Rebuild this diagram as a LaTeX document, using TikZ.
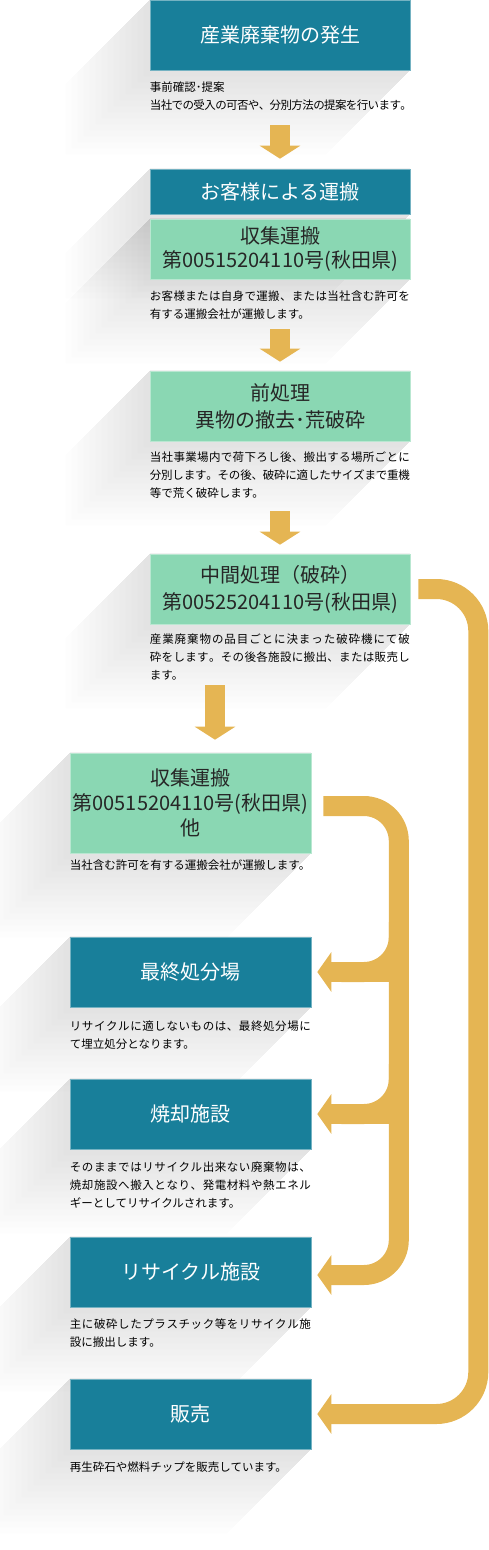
\documentclass[tikz,border=0pt]{standalone}
\usepackage{fontspec}
\newfontfamily\jp{Noto Sans CJK JP}
\usetikzlibrary{calc,arrows.meta,backgrounds}

\definecolor{boxteal}{HTML}{187F9A}
\definecolor{boxgreen}{HTML}{8AD7B3}
\definecolor{flowgold}{HTML}{E5B553}

% justified line: spread the characters of #2 over the width #1
\newcommand\jline[2]{\hbox to #1{\jfirst#2\relax}}
\def\jfirst#1{#1\jrest}
\def\jrest#1{\ifx#1\relax\else\hskip 0pt plus 1fil minus 1fil\relax#1\expandafter\jrest\fi}

\tikzset{
  tealbox/.style={fill=boxteal, draw=boxteal!60!white, line width=0.6pt, text=white,
    minimum width=260pt, minimum height=70pt, inner sep=0pt, align=center,
    font=\jp\fontsize{20}{26}\selectfont},
  greenbox/.style={tealbox, fill=boxgreen, draw=boxgreen!60!white, text=black!85},
  desc/.style={anchor=north west, inner sep=0pt, align=left, text=black,
    font=\jp\fontsize{11.5}{18}\selectfont},
  band/.style={draw=flowgold, line width=20pt},
  sidetip/.style={-{Triangle[length=14pt,width=39pt]}},
  downarr/.style={band, -{Triangle[length=13pt,width=40pt]}},
}

\begin{document}
\begin{tikzpicture}[x=1pt,y=-1pt]
  \useasboundingbox (0,0) rectangle (489,1550);

  % upper column
  \node[tealbox] (gen) at (280,35) {産業廃棄物の発生};
  \node[tealbox, minimum height=45pt] (cust) at (280,191.5) {お客様による運搬};
  \node[greenbox, minimum height=60pt, font=\jp\fontsize{20}{24}\selectfont] (trans1) at (280,249) {収集運搬\\第00515204110号(秋田県)};
  \node[greenbox, font=\jp\fontsize{20}{27}\selectfont] (pre) at (280,406) {前処理\\異物の撤去･荒破砕};
  \node[greenbox, font=\jp\fontsize{20}{27}\selectfont] (mid) at (280,589) {中間処理（破砕）\\第00525204110号(秋田県)};

  % lower column
  \node[greenbox, minimum width=241pt, minimum height=100pt, font=\jp\fontsize{20}{25}\selectfont] (trans2) at (190.5,803) {収集運搬\\第00515204110号(秋田県)\\他};
  \node[tealbox, minimum width=241pt] (landfill) at (190.5,972) {最終処分場};
  \node[tealbox, minimum width=241pt] (incin) at (190.5,1114) {焼却施設};
  \node[tealbox, minimum width=241pt] (recyc) at (190.5,1272) {リサイクル施設};
  \node[tealbox, minimum width=241pt] (sale) at (190.5,1414) {販売};

  % notes under the boxes
  \node[desc] (gen-d) at ($(gen.south west)+(0,11)$) {事前確認･提案\\\jline{262pt}{当社での受入の可否や、分別方法の提案を行います。}};
  \node[desc] (trans1-d) at ($(trans1.south west)+(0,11)$) {\jline{260pt}{お客様または自身で運搬、または当社含む許可を}\\有する運搬会社が運搬します。};
  \node[desc] (pre-d) at ($(pre.south west)+(0,10)$) {\jline{260pt}{当社事業場内で荷下ろし後、搬出する場所ごとに}\\\jline{260pt}{分別します。その後、破砕に適したサイズまで重機}\\等で荒く破砕します。};
  \node[desc] (mid-d) at ($(mid.south west)+(0,9)$) {\jline{260pt}{産業廃棄物の品目ごとに決まった破砕機にて破}\\\jline{260pt}{砕をします。その後各施設に搬出、または販売し}\\ます。};
  \node[desc] (trans2-d) at ($(trans2.south west)+(0,6)$) {当社含む許可を有する運搬会社が運搬します。};
  \node[desc] (landfill-d) at ($(landfill.south west)+(0,13)$) {\jline{241pt}{リサイクルに適しないものは、最終処分場に}\\て埋立処分となります。};
  \node[desc] (incin-d) at ($(incin.south west)+(0,12)$) {\jline{241pt}{そのままではリサイクル出来ない廃棄物は、}\\\jline{241pt}{焼却施設へ搬入となり、発電材料や熱エネル}\\ギーとしてリサイクルされます。};
  \node[desc] (recyc-d) at ($(recyc.south west)+(0,11)$) {\jline{241pt}{主に破砕したプラスチック等をリサイクル施}\\設に搬出します。};
  \node[desc] (sale-d) at ($(sale.south west)+(0,12)$) {再生砕石や燃料チップを販売しています。};

  % long shadows
  \begin{scope}[on background layer]
    \foreach \b in {gen,cust,trans1,pre,mid,trans2,landfill,incin,recyc,sale}
      \foreach \d in {6,12,...,84}
        \fill[black, opacity=0.0085] (\b.north west) -- (\b.north east) -- (\b.south east)
          -- ++(-\d,\d) -- ($(\b.south west)+(-\d,\d)$) -- ($(\b.north west)+(-\d,\d)$) -- cycle;
  \end{scope}

  % down arrows
  \draw[downarr] ($(gen.south)+(0,55)$) -- ($(cust.north)+(0,-10)$);
  \draw[downarr] ($(trans1.south)+(0,50)$) -- ($(pre.north)+(0,-9)$);
  \draw[downarr] ($(pre.south)+(0,70)$) -- ($(mid.north)+(0,-9)$);
  \draw[downarr] ($(mid.south)+(-65,61)$) -- ($(trans2.north)+(24.5,-13)$);

  % outer route: crushing -> sale
  \draw[band, sidetip, rounded corners=42pt] ($(mid.east)+(8,0)$) -| ($(sale.east)+(167,0)$) -- ($(sale.east)+(6,0)$);
  % inner route: transport -> facilities
  \draw[band, sidetip, rounded corners=35pt] ($(trans2.east)+(12,3)$) -| ($(recyc.east)+(87.5,3)$) -- ($(recyc.east)+(6,3)$);
  \foreach \b in {landfill,incin} {
    \draw[band, rounded corners=35pt] ($(\b.east)+(87.5,-50)$) |- ($(\b.east)+(30,0)$);
    \draw[band, sidetip] ($(\b.east)+(87.5,0)$) -- ($(\b.east)+(6,0)$);
  }
\end{tikzpicture}
\end{document}
